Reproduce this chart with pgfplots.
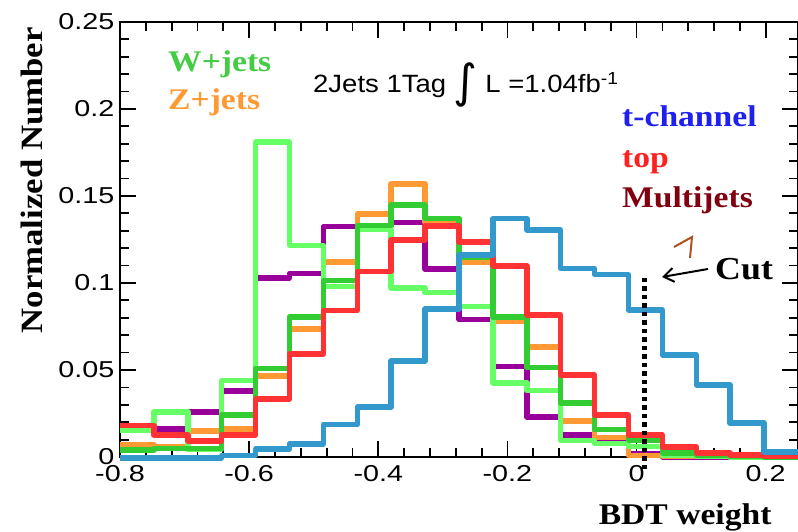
\documentclass[border=0pt]{standalone}
\usepackage{fontspec}
\setmainfont{Liberation Sans}
\newfontfamily\tickfont{Liberation Sans}[FakeStretch=1.25]
\newfontfamily\annfont{Liberation Sans}[FakeStretch=1.1]
\newfontfamily\serifb{Liberation Serif}[FakeStretch=1.12]
\newfontfamily\dejavu{DejaVu Sans}
\usepackage{pgfplots}
\usepackage{pgfplotstable}
\pgfplotsset{compat=1.18}
\usetikzlibrary{arrows.meta}

\definecolor{wjets}{HTML}{66FF66}
\definecolor{dgreen}{HTML}{33CC33}
\definecolor{zjets}{HTML}{FF9933}
\definecolor{topc}{HTML}{FF3333}
\definecolor{tch}{HTML}{3399CC}
\definecolor{multi}{HTML}{990099}
\definecolor{wtext}{HTML}{44CC44}
\definecolor{ttext}{HTML}{2020EE}
\definecolor{toptext}{HTML}{FF2020}
\definecolor{mtext}{HTML}{800010}
\definecolor{brownmark}{HTML}{B05020}

\pgfplotstableread{
x        lg      dg      or      red     blue    pur
-0.8     0.0155  0.004   0.007   0.018   -0.0006 0.017
-0.7475  0.026   0.005   0.006   0.0127  -0.0006 0.016
-0.695   0.0046  0.005   0.015   0.0093  -0.0006 0.026
-0.6425  0.044   0.024   0.016   0.0126  0.0008  0.038
-0.59    0.181   0.051   0.0466  0.0333  0.0046  0.103
-0.5375  0.1215  0.0805  0.0736  0.0592  0.0075  0.1055
-0.485   0.098   0.1015  0.112   0.0843  0.0186  0.1325
-0.4325  0.131   0.133   0.1397  0.1065  0.0286  0.133
-0.38    0.097   0.1448  0.157   0.1247  0.0552  0.1347
-0.3275  0.0945  0.1372  0.135   0.1328  0.0850  0.108
-0.275   0.0864  0.115   0.1122  0.1237  0.116   0.079
-0.2225  0.0425  0.0806  0.078   0.1098  0.137   0.052
-0.17    0.0383  0.0514  0.0632  0.0816  0.1305  0.023
-0.1175  0.0094  0.031   0.0208  0.047   0.1084  0.0126
-0.065   0.0077  0.0157  0.0113  0.0241  0.1048  0.009
-0.0125  0.006   0.0097  0.001   0.0126  0.0845  0.002
0.04     0.001   0.0023  0.0005  0.0058  0.0586  0.000
0.0925   0.0005  0.001   0.0003  0.0024  0.0414  0.000
0.145    0.000   0.0005  0.000   0.0012  0.0194  0.000
0.1975   0.000   0.000   0.000   0.0003  0.003   0.000
0.25     0.000   0.000   0.000   0.0003  0.003   0.000
}\histdata

\begin{document}
\begin{tikzpicture}
\useasboundingbox (-120bp,-75bp) rectangle (678bp,457bp);
\begin{axis}[
  at={(0,0)}, anchor=south west,
  scale only axis, width=678bp, height=435bp,
  xmin=-0.8, xmax=0.25, ymin=0, ymax=0.25,
  xtick={-0.8,-0.6,-0.4,-0.2,0,0.2},
  xticklabels={-0.8,-0.6,-0.4,-0.2,0,0.2},
  ytick={0,0.05,0.1,0.15,0.2,0.25},
  yticklabels={0,0.05,0.1,0.15,0.2,0.25},
  minor x tick num=4, minor y tick num=4,
  tick align=inside,
  major tick length=16bp, minor tick length=9bp,
  axis line style={line width=2.2bp},
  every tick/.style={line width=1.8bp, black},
  ticklabel style={font=\tickfont\fontsize{23bp}{23bp}\selectfont, inner sep=0.5bp},
  xticklabel style={yshift=-8bp},
  yticklabel style={xshift=-5bp},
  clip=false,
  const plot mark left,
  every axis plot/.append style={line width=5.5bp, line join=round},
]
\addplot[multi, no marks] table[x=x, y=pur] {\histdata};
\addplot[zjets, no marks] table[x=x, y=or] {\histdata};
\addplot[wjets, no marks] table[x=x, y=lg] {\histdata};
\addplot[dgreen, no marks] table[x=x, y=dg] {\histdata};
\addplot[topc, no marks] table[x=x, y=red] {\histdata};
\addplot[tch, no marks] table[x=x, y=blue] {\histdata};
\addplot[black, no marks, sharp plot, line width=5bp, dash pattern=on 4.5bp off 4bp] coordinates {(0.0124,-0.007) (0.0124,0.1035)};
\end{axis}

% axis titles
\node[rotate=90, anchor=east, font=\serifb\bfseries\fontsize{31bp}{31bp}\selectfont] at (-88bp,433bp) {Normalized Number};
\node[anchor=base east, font=\serifb\bfseries\fontsize{30bp}{30bp}\selectfont] at (655bp,-67bp) {BDT weight};

% legend-like texts
\node[anchor=base west, text=wtext, font=\serifb\bfseries\fontsize{30bp}{30bp}\selectfont, inner sep=0pt] at (48bp,385bp) {W+jets};
\node[anchor=base west, text=zjets, font=\serifb\bfseries\fontsize{30bp}{30bp}\selectfont, inner sep=0pt] at (48bp,347bp) {Z+jets};
\node[anchor=base west, text=ttext, font=\serifb\bfseries\fontsize{30bp}{30bp}\selectfont, inner sep=0pt] at (502bp,330bp) {t-channel};
\node[anchor=base west, text=toptext, font=\serifb\bfseries\fontsize{30bp}{30bp}\selectfont, inner sep=0pt] at (502bp,289bp) {top};
\node[anchor=base west, text=mtext, font=\serifb\bfseries\fontsize{30bp}{30bp}\selectfont, inner sep=0pt] at (502bp,249bp) {Multijets};

\node[anchor=base west, inner sep=0pt, font=\annfont\fontsize{25bp}{30bp}\selectfont] at (193bp,364bp)
  {2Jets 1Tag {\dejavu\fontsize{46bp}{46bp}\selectfont\raisebox{-5bp}{∫}} L =1.04fb\textsuperscript{-1}};

% cut annotation
\node[anchor=base west, inner sep=0pt, font=\serifb\bfseries\fontsize{32bp}{32bp}\selectfont] at (595bp,177bp) {Cut};
\draw[line width=2bp, -{Straight Barb[length=10bp,width=14bp]}] (588bp,188bp) -- (542bp,180bp);
\draw[brownmark, line width=2bp] (554bp,210bp) -- (572bp,220bp) -- (570bp,199bp);
\end{tikzpicture}
\end{document}
